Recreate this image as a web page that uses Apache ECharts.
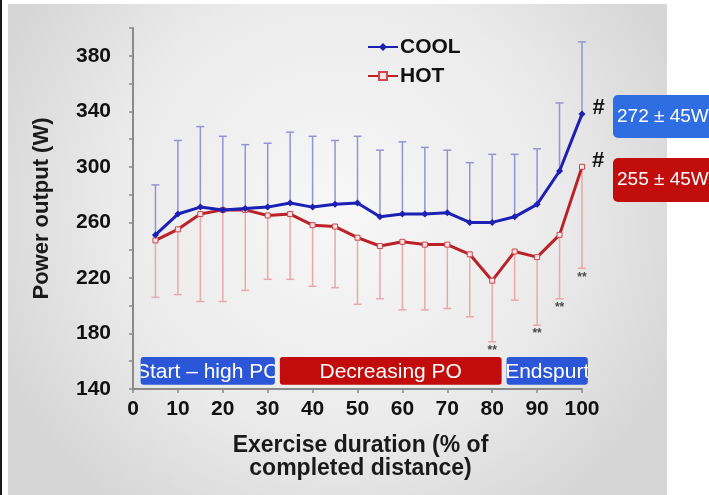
<!DOCTYPE html>
<html>
<head>
<meta charset="utf-8">
<script src="https://cdn.jsdelivr.net/npm/echarts@6/dist/echarts.min.js"></script>
<style>
  html, body { margin: 0; padding: 0; background: #ffffff; }
  #chart { width: 709px; height: 495px; }
</style>
</head>
<body>
<div id="chart"></div>
<script>
// Power output across the time trial, in 5 % steps of completed distance
const progress  = [5, 10, 15, 20, 25, 30, 35, 40, 45, 50, 55, 60, 65, 70, 75, 80, 85, 90, 95, 100];
const coolMean  = [251, 266, 271, 269, 270, 271, 274, 271, 273, 274, 264, 266, 266, 267, 260, 260, 264, 273, 297, 338];
const coolUpper = [287, 319, 329, 322, 316, 317, 325, 322, 319, 322, 312, 318, 314, 312, 303, 309, 309, 313, 346, 390];
const hotMean   = [247, 255, 266, 269, 269, 265, 266, 258, 257, 249, 243, 246, 244, 244, 237, 218, 239, 235, 251, 300];
const hotLower  = [206, 208, 203, 203, 211, 219, 219, 214, 213, 201, 205, 197, 197, 198, 192, 174, 204, 186, 205, 227];
// points where HOT differs from COOL (**)
const sigPoints = [80, 90, 95, 100];

// pacing phases along the distance axis
const phaseNames = ['Start \u2013 high PO', 'Decreasing PO', 'Endspurt'];
const phaseStart = [1.7, 32.7, 83.2];
const phaseEnd   = [31.6, 82.1, 101.3];

// labelled y values and summary boxes
const yLabels = [140, 180, 220, 260, 300, 340, 380];
const summaryTexts = ['272 \u00b1 45W', '255 \u00b1 45W'];

const FONT = '"Liberation Sans", Arial, Helvetica, sans-serif';
const COOL_LINE = '#1c20b4';
const HOT_LINE = '#bb2227';
const COOL_BAR = '#9494d4';
const HOT_BAR = '#e9a9a9';
const phaseColors = ['#2c56d8', '#c20b0b', '#2c56d8'];

const chart = echarts.init(document.getElementById('chart'), null, { renderer: 'canvas' });

function errorBars(color, withStars) {
  return function (params, api) {
    const x = api.value(0);
    const p1 = api.coord([x, api.value(1)]);
    const p2 = api.coord([x, api.value(2)]);
    const hw = 4;
    const children = [
      { type: 'line', shape: { x1: p1[0], y1: p1[1], x2: p2[0], y2: p2[1] }, style: { stroke: color, lineWidth: 1.5 } },
      { type: 'line', shape: { x1: p2[0] - hw, y1: p2[1], x2: p2[0] + hw, y2: p2[1] }, style: { stroke: color, lineWidth: 1.5 } }
    ];
    if (withStars && sigPoints.indexOf(x) !== -1) {
      children.push({
        type: 'text', x: p2[0], y: p2[1] + 9,
        style: { text: '**', fill: '#4a4a4a', font: 'bold 12px ' + FONT, textAlign: 'center', textVerticalAlign: 'middle' }
      });
    }
    return { type: 'group', children: children };
  };
}

function phaseBox(params, api) {
  const s = api.value(0), e = api.value(1), i = api.value(2);
  const tl = api.coord([s, 163]);
  const br = api.coord([e, 143]);
  const w = br[0] - tl[0], h = br[1] - tl[1];
  const cx = tl[0] + w / 2, cy = tl[1] + h / 2;
  return {
    type: 'group',
    children: [
      { type: 'rect', shape: { x: tl[0], y: tl[1], width: w, height: h, r: 3 }, style: { fill: phaseColors[i] } },
      {
        type: 'text', x: cx, y: cy + 1,
        style: { text: phaseNames[i], fill: '#ffffff', font: '21px ' + FONT, textAlign: 'center', textVerticalAlign: 'middle' },
        clipPath: { type: 'rect', shape: { x: -w / 2, y: -h / 2 - 1, width: w, height: h } }
      }
    ]
  };
}

const hashLabel = { show: true, formatter: '#', position: 'right', distance: 7, offset: [0, -6], color: '#111', fontSize: 22, fontWeight: 'bold', fontFamily: FONT };

const coolData = progress.map((x, i) => i === progress.length - 1
  ? { value: [x, coolMean[i]], label: hashLabel }
  : [x, coolMean[i]]);
const hotData = progress.map((x, i) => i === progress.length - 1
  ? { value: [x, hotMean[i]], label: hashLabel }
  : [x, hotMean[i]]);

const option = {
  backgroundColor: '#ffffff',
  animation: false,
  textStyle: { fontFamily: FONT },
  graphic: [
    { type: 'rect', z: -10, shape: { x: 0, y: 0, width: 2, height: 495 }, style: { fill: '#1a1a1a' } },
    {
      type: 'rect', z: -10, shape: { x: 8, y: 4, width: 659, height: 491 },
      style: {
        fill: new echarts.graphic.RadialGradient(0.5, 0.42, 0.75, [
          { offset: 0, color: '#f7f7f7' },
          { offset: 0.6, color: '#ebebeb' },
          { offset: 1, color: '#d6d6d6' }
        ])
      }
    },
    {
      type: 'group', children: [
        { type: 'rect', shape: { x: 613, y: 95, width: 120, height: 43, r: 5 }, style: { fill: '#2f6de3' } },
        { type: 'text', x: 617, y: 117, style: { text: summaryTexts[0], fill: '#ffffff', font: '19px ' + FONT, textVerticalAlign: 'middle' } }
      ]
    },
    {
      type: 'group', children: [
        { type: 'rect', shape: { x: 613, y: 158, width: 120, height: 44, r: 5 }, style: { fill: '#c20d0d' } },
        { type: 'text', x: 617, y: 180, style: { text: summaryTexts[1], fill: '#ffffff', font: '19px ' + FONT, textVerticalAlign: 'middle' } }
      ]
    }
  ],
  legend: {
    orient: 'vertical',
    left: 362,
    top: 31,
    itemWidth: 30,
    itemHeight: 10,
    itemGap: 7,
    data: ['COOL', 'HOT'],
    textStyle: { fontSize: 21, fontWeight: 'bold', color: '#111', fontFamily: FONT, lineHeight: 22, padding: [0, 0, 0, -3] }
  },
  grid: { left: 133, right: 127, top: 28, bottom: 106, containLabel: false, outerBoundsMode: 'none' },
  xAxis: {
    type: 'value',
    min: 0, max: 100, interval: 10,
    name: 'Exercise duration (% of\ncompleted distance)',
    nameLocation: 'middle',
    nameGap: 45,
    nameTextStyle: {
      align: 'center', verticalAlign: 'top', padding: [0, 0, 0, 6],
      fontSize: 23, fontWeight: 'bold', color: '#1a1a1a', lineHeight: 23, fontFamily: FONT
    },
    axisLine: { lineStyle: { color: '#8a8a8a', width: 2 } },
    axisTick: { show: true, length: 4, lineStyle: { color: '#8a8a8a', width: 1.5 } },
    axisLabel: { fontSize: 21, fontWeight: 'bold', color: '#111', margin: 10, fontFamily: FONT, showMaxLabel: true, hideOverlap: false },
    splitLine: { show: false }
  },
  yAxis: {
    type: 'value',
    min: 140, max: 400, interval: 20,
    name: 'Power output (W)',
    nameLocation: 'middle',
    nameGap: 80,
    nameTextStyle: { fontSize: 22, fontWeight: 'bold', color: '#1a1a1a', fontFamily: FONT },
    axisLine: { show: true, lineStyle: { color: '#8a8a8a', width: 2 } },
    axisTick: { show: true, length: 4, lineStyle: { color: '#8a8a8a', width: 1.5 } },
    axisLabel: {
      fontSize: 21, fontWeight: 'bold', color: '#111', margin: 22, fontFamily: FONT,
      formatter: v => (yLabels.indexOf(v) !== -1 ? String(v) : '')
    },
    splitLine: { show: false }
  },
  series: [
    {
      type: 'custom', name: 'phases', z: 1, silent: true,
      renderItem: phaseBox,
      encode: { x: [0, 1] },
      data: phaseStart.map((s, i) => [s, phaseEnd[i], i])
    },
    {
      type: 'custom', name: 'COOL SD', z: 2, silent: true,
      renderItem: errorBars(COOL_BAR, false),
      encode: { x: 0, y: [1, 2] },
      data: progress.map((x, i) => [x, coolMean[i], coolUpper[i]])
    },
    {
      type: 'custom', name: 'HOT SD', z: 2, silent: true,
      renderItem: errorBars(HOT_BAR, true),
      encode: { x: 0, y: [1, 2] },
      data: progress.map((x, i) => [x, hotMean[i], hotLower[i]])
    },
    {
      type: 'line', name: 'COOL', z: 4,
      data: coolData,
      symbol: 'diamond', symbolSize: 7,
      lineStyle: { color: COOL_LINE, width: 3 },
      itemStyle: { color: COOL_LINE }
    },
    {
      type: 'line', name: 'HOT', z: 3,
      data: hotData,
      symbol: 'rect', symbolSize: 5,
      lineStyle: { color: HOT_LINE, width: 3 },
      itemStyle: { color: '#fbe3e3', borderColor: '#c8484b', borderWidth: 1 }
    }
  ]
};

chart.setOption(option);
</script>
</body>
</html>
